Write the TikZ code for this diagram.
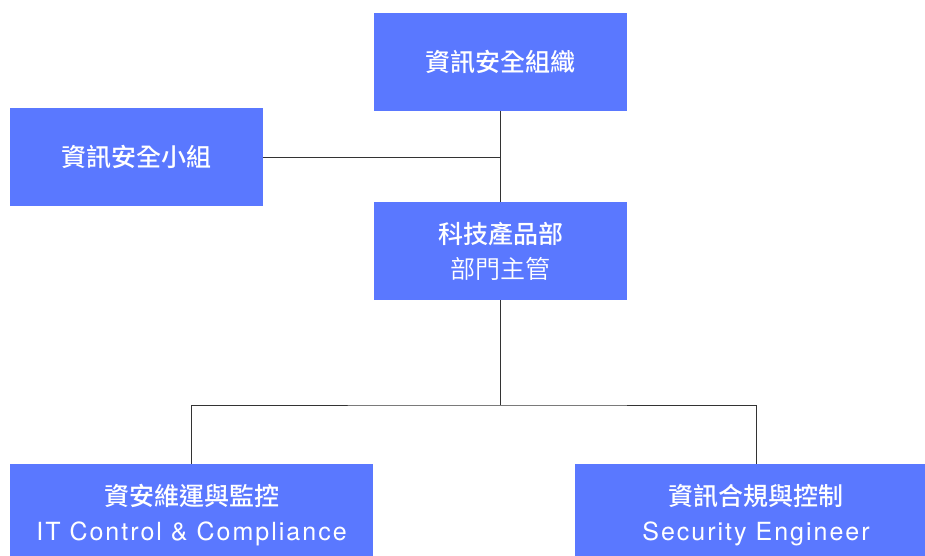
\documentclass[tikz,border=0pt]{standalone}
\usepackage{fontspec}
\setmainfont{Noto Sans CJK TC}[BoldFont={Noto Sans CJK TC Medium}]
\newfontfamily\lightfont{Noto Sans CJK TC DemiLight}
\newfontfamily\latinfont[LetterSpace=8]{TeX Gyre Heros}
\definecolor{boxblue}{HTML}{5A78FF}
\begin{document}
\begin{tikzpicture}[x=1pt,y=-1pt,
		box/.style={fill=boxblue,text=white,inner sep=0pt,align=center,minimum width=253pt,minimum height=98pt,font=\fontsize{25}{35}\selectfont},
		link/.style={draw=black!80,line width=0.8pt}]
	\useasboundingbox (0,0) rectangle (925,556);
	\node[box] (org) at (500.5,62) {\bfseries 資訊安全組織};
	\node[box] (team) at (136.5,157) {\bfseries 資訊安全小組};
	\node[box] (dept) at (500.5,251) {\bfseries 科技產品部\\{\lightfont 部門主管}};
	\node[box,minimum width=363pt,minimum height=102pt] (ops) at (191.5,515) {\bfseries 資安維運與監控\\{\latinfont IT Control \& Compliance}};
	\node[box,minimum width=362pt,minimum height=102pt] (comp) at (756,515) {\bfseries 資訊合規與控制\\{\latinfont Security Engineer}};
	\coordinate (split) at (500.5,405);
	\draw[link] (org.south) -- (dept.north);
	\draw[link] (team.east) -- (team.east -| org.south);
	\draw[link] (dept.south) -- (split);
	\draw[link] (ops.north) |- (split) -| (comp.north);
\end{tikzpicture}
\end{document}
